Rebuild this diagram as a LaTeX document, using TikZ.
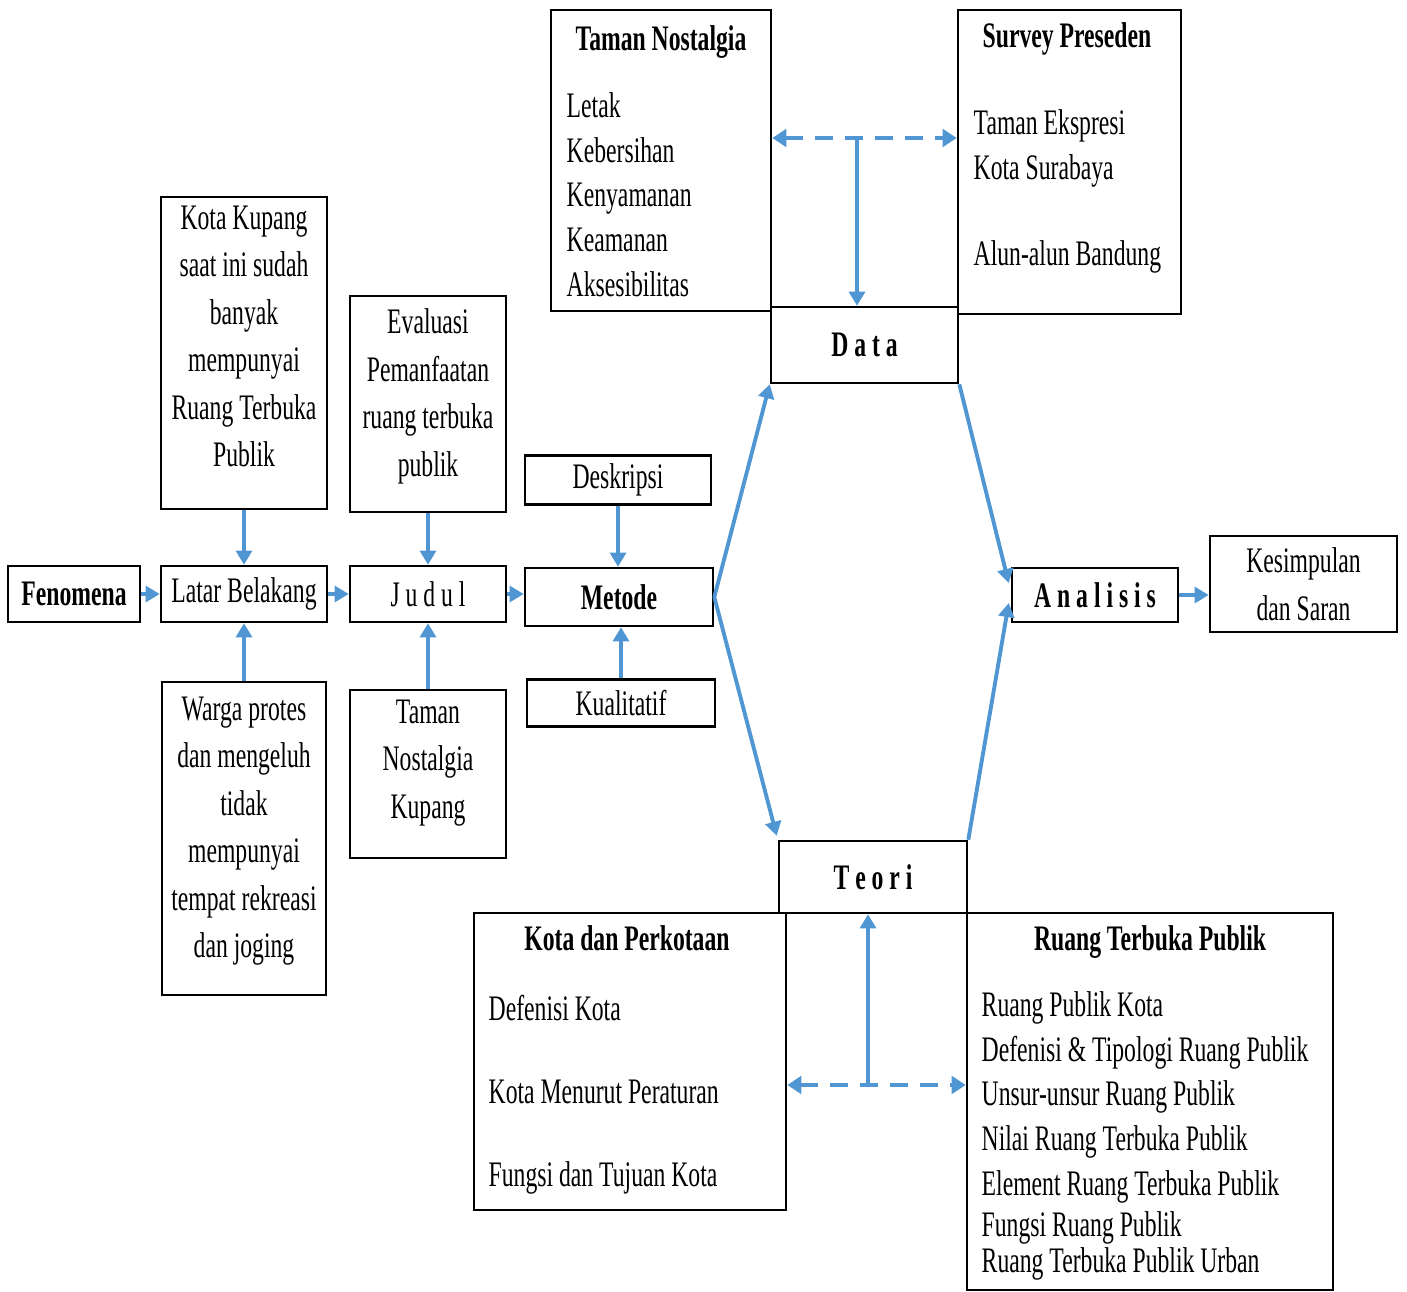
\documentclass[tikz,border=0pt]{standalone}
\usepackage{fontspec}
\setmainfont{Liberation Serif}[FakeStretch=0.66]
\usetikzlibrary{arrows.meta}
\usetikzlibrary{positioning}

\definecolor{flowblue}{RGB}{80,150,210}
\tikzset{
  box/.style={draw=black,line width=0.7pt,rectangle,inner sep=0pt},
  txt/.style={inner sep=0pt,font=\fontsize{10.2}{13.5}\selectfont,align=center},
  lst/.style={inner sep=0pt,font=\fontsize{10.2}{12.7}\selectfont,align=left,anchor=north west},
  ttl/.style={inner sep=0pt,font=\fontsize{10.2}{12.7}\selectfont\bfseries,anchor=north},
  flow/.style={draw=flowblue,line width=1.1pt,-{Triangle[length=4pt,width=4.5pt]}},
  dflow/.style={draw=flowblue,line width=1.3pt,dash pattern=on 5pt off 3.5pt,
    {Triangle[length=4pt,width=5pt]}-{Triangle[length=4pt,width=5pt]}},
}

\begin{document}
\begin{tikzpicture}[x=0.01cm,y=-0.01cm]
\useasboundingbox (0,0) rectangle (1407,1291);

% main row
\node[box,txt,minimum width=1.32cm,minimum height=0.56cm] (fen) at (74,594) {\bfseries Fenomena};
\node[box,txt,minimum width=1.66cm,minimum height=0.56cm] (latar) at (244,594) {Latar Belakang};
\node[box,txt,minimum width=1.56cm,minimum height=0.56cm] (judul) at (428,594) {J u d u l};
\node[box,txt,minimum width=1.88cm,minimum height=0.58cm] (metode) at (619,597) {\bfseries Metode};
\node[box,txt,minimum width=1.86cm,minimum height=0.49cm] (deskripsi) at (618,480) {Deskripsi};
\node[box,txt,minimum width=1.88cm,minimum height=0.47cm] (kualitatif) at (621,703) {Kualitatif};

% boxes above and below
\node[box,minimum width=1.66cm,minimum height=3.12cm] (kupang) at (244,353) {};
\node[txt,anchor=north] (kupangtxt) at (244,205) {Kota Kupang\\saat ini sudah\\banyak\\mempunyai\\Ruang Terbuka\\Publik};
\node[box,minimum width=1.56cm,minimum height=2.16cm] (evaluasi) at (428,404) {};
\node[txt,anchor=north] (evaluasitxt) at (428,308) {Evaluasi\\Pemanfaatan\\ruang terbuka\\publik};
\node[box,minimum width=1.64cm,minimum height=3.13cm] (warga) at (244,838.5) {};
\node[txt,anchor=north] (wargatxt) at (244,696) {Warga protes\\dan mengeluh\\tidak\\mempunyai\\tempat rekreasi\\dan joging};
\node[box,minimum width=1.56cm,minimum height=1.68cm] (tnk) at (428,774) {};
\node[txt,anchor=north] (tnktxt) at (428,699) {Taman\\Nostalgia\\Kupang};

% data side
\node[box,minimum width=2.20cm,minimum height=3.01cm] (tn) at (661,160.5) {};
\node[ttl] (tnttl) at (661,25) {Taman Nostalgia};
\node[lst] (tnlst) at (566,92) {Letak\\Kebersihan\\Kenyamanan\\Keamanan\\Aksesibilitas};
\node[box,minimum width=2.23cm,minimum height=3.04cm] (sv) at (1069.5,162) {};
\node[ttl] (svttl) at (1067,22) {Survey Preseden};
\node[lst] (svlst) at (973,109) {Taman Ekspresi\\Kota Surabaya\\[11.8pt]Alun-alun Bandung};
\node[box,txt,minimum width=1.87cm,minimum height=0.76cm] (data) at (864.5,345) {\bfseries D a t a};

% teori side
\node[box,txt,minimum width=1.88cm,minimum height=0.72cm] (teori) at (873,877) {\bfseries T e o r i};
\node[box,minimum width=3.12cm,minimum height=2.97cm] (kp) at (630,1061.5) {};
\node[ttl] (kpttl) at (627,925) {Kota dan Perkotaan};
\node[lst] (kplst) at (488,995) {Defenisi Kota\\[10.8pt]Kota Menurut Peraturan\\[10.8pt]Fungsi dan Tujuan Kota};
\node[box,minimum width=3.66cm,minimum height=3.77cm] (rtp) at (1150,1101.5) {};
\node[ttl] (rtpttl) at (1150,925) {Ruang Terbuka Publik};
\node[lst] (rtplst) at (981,991) {Ruang Publik Kota\\Defenisi \& Tipologi Ruang Publik\\Unsur-unsur Ruang Publik\\Nilai Ruang Terbuka Publik\\Element Ruang Terbuka Publik\\[-0.9pt]Fungsi Ruang Publik\\[-2.6pt]Ruang Terbuka Publik Urban};

% end
\node[box,txt,minimum width=1.66cm,minimum height=0.54cm] (analisis) at (1095,595) {\bfseries A n a l i s i s};
\node[box,txt,minimum width=1.87cm,minimum height=0.96cm] (kesimp) at (1303.5,584) {Kesimpulan\\dan Saran};

\coordinate (tjoin) at (857,138);
\coordinate (bjoin) at (868,1085);

% arrows
\draw[flow] (fen) -- (latar);
\draw[flow] (latar) -- (judul);
\draw[flow] (judul.east) -- (judul.east -| metode.west);
\draw[flow] (kupang) -- (latar);
\draw[flow] (warga) -- (latar);
\draw[flow] (evaluasi) -- (judul);
\draw[flow] (tnk) -- (judul);
\draw[flow] (deskripsi) -- (deskripsi |- metode.north);
\draw[flow] (kualitatif) -- (kualitatif |- metode.south);
\draw[flow] (metode.east) -- (data.south west);
\draw[flow] (metode.east) -- ([xshift=-0.01cm,yshift=0.04cm]teori.north west);
\draw[flow] (data.south east) -- ([xshift=-0.02cm,yshift=0.12cm]analisis.west);
\draw[flow] (teori.north east) -- ([xshift=-0.02cm,yshift=-0.08cm]analisis.west);
\draw[flow] (analisis.east) -- (analisis.east -| kesimp.west);
\draw[dflow] (tn.east |- tjoin) -- (sv.west |- tjoin);
\draw[flow] (tjoin) -- (tjoin |- data.north);
\draw[dflow] (kp.east |- bjoin) -- (rtp.west |- bjoin);
\draw[flow] (bjoin) -- (bjoin |- teori.south);

\end{tikzpicture}
\end{document}
